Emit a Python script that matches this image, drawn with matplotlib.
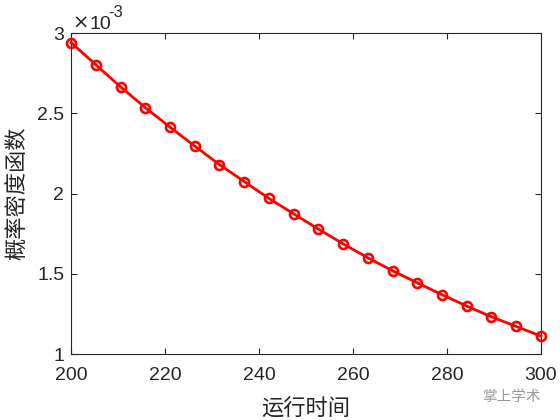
import numpy as np
import matplotlib
matplotlib.use("Agg")
import matplotlib.pyplot as plt
from matplotlib.ticker import FuncFormatter

plt.rcParams['font.family'] = ['Liberation Sans', 'Noto Sans CJK SC', 'DejaVu Sans']

# data
run_time = [200.0, 205.26, 210.53, 215.79, 221.05, 226.32, 231.58, 236.84, 242.11, 247.37,
            252.63, 257.89, 263.16, 268.42, 273.68, 278.95, 284.21, 289.47, 294.74, 300.0]
pdf_vals = [2.941e-3, 2.803e-3, 2.665e-3, 2.536e-3, 2.414e-3, 2.296e-3, 2.181e-3, 2.075e-3,
            1.970e-3, 1.874e-3, 1.779e-3, 1.687e-3, 1.600e-3, 1.519e-3, 1.444e-3, 1.370e-3,
            1.299e-3, 1.232e-3, 1.172e-3, 1.112e-3]
x_ticks = [200, 220, 240, 260, 280, 300]
y_ticks = [1e-3, 1.5e-3, 2e-3, 2.5e-3, 3e-3]
y_scale_exp = -3
xlabel = "运行时间"
ylabel = "概率密度函数"
watermark = "掌上学术"

dark = '#262626'
fig = plt.figure(figsize=(5.6, 4.2), dpi=100)
ax = fig.add_axes([0.127, 0.157, 0.839, 0.764])
ax.plot(run_time, pdf_vals, color='red', linewidth=2, marker='o', markersize=6.5,
        markerfacecolor='none', markeredgewidth=1.9, markeredgecolor='red', clip_on=False, zorder=3)
ax.set_xlim(200, 300)
ax.set_ylim(1e-3, 3e-3)
ax.set_xticks(x_ticks)
ax.set_yticks(y_ticks)
ax.yaxis.set_major_formatter(FuncFormatter(lambda v, p: '%g' % round(v / 10.0 ** y_scale_exp, 6)))
ax.tick_params(direction='in', top=True, right=True, length=4, width=0.8,
               labelsize=14, colors=dark)
ax.tick_params(axis='x', pad=9)
ax.tick_params(axis='y', pad=5)
for s in ax.spines.values():
    s.set_color(dark)
    s.set_linewidth(0.8)
# exponent label
ax.text(0.002, 1.014, '×', transform=ax.transAxes, fontsize=14, color=dark,
        ha='left', va='baseline', family=['DejaVu Sans'])
ax.text(0.040, 1.014, '10', transform=ax.transAxes, fontsize=14, color=dark,
        ha='left', va='baseline')
ax.text(0.080, 1.05, '-%d' % abs(y_scale_exp), transform=ax.transAxes, fontsize=12, color=dark,
        ha='left', va='baseline')
ax.set_xlabel(xlabel, fontsize=16, color=dark, family=['Noto Sans CJK SC'], labelpad=10)
ax.set_ylabel(ylabel, fontsize=16, color=dark, family=['Noto Sans CJK SC'], labelpad=6)
fig.text(0.913, 0.055, watermark, fontsize=10.5, color='#9a9a9a', ha='center', va='center',
         family=['Noto Sans CJK SC'])
fig.savefig('out.png', dpi=100)
